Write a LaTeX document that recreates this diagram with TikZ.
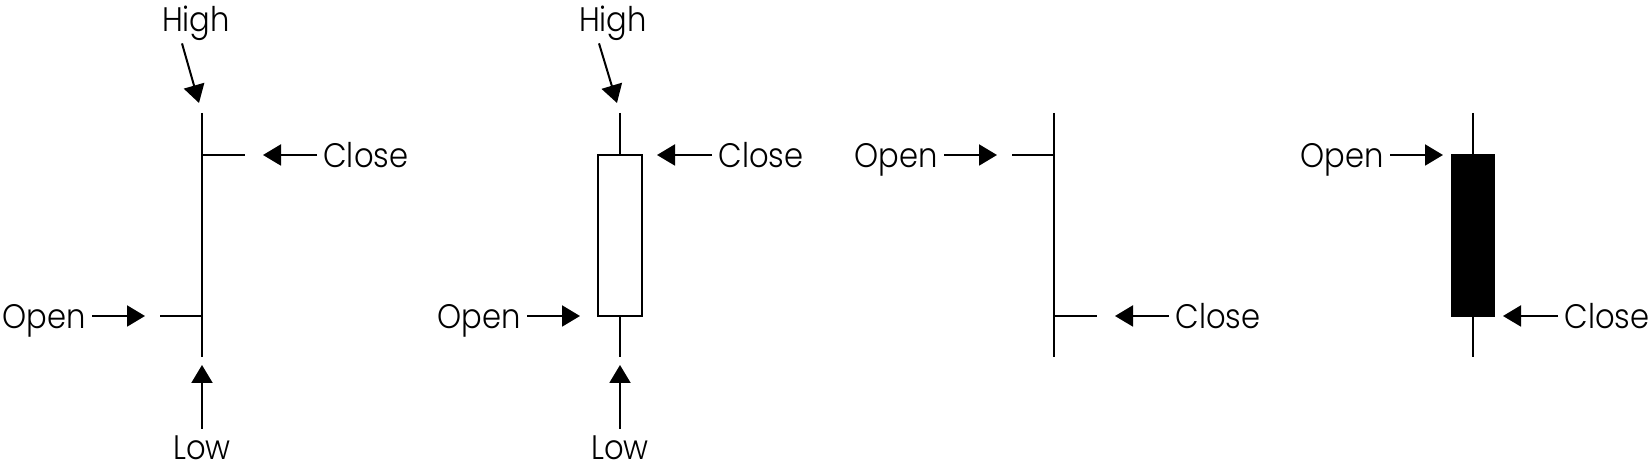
\documentclass[tikz,border=0pt]{standalone}
\usepackage{fontspec}
\setmainfont{Poppins}[UprightFont=* Light,FakeStretch=0.9]
\usetikzlibrary{arrows.meta}

\begin{document}
\begin{tikzpicture}[x=0.5pt,y=-0.5pt,
  lbl/.style={inner sep=3pt,text depth=0pt,font=\fontsize{17}{17}\selectfont},
  arr/.style={line width=1pt,-{Triangle[length=9pt,width=10.5pt]}},
  wick/.style={line width=1.1pt}]
\useasboundingbox (0,0) rectangle (1650,469);
% wicks
\foreach \x in {202,620,1054,1473}
  {\draw[wick] (\x,113) -- (\x,357);}
% ticks and bodies
\draw[wick] (202,155) -- (245,155) (160,316) -- (202,316);
\draw[wick,fill=white] (598,155) rectangle (642,316);
\draw[wick] (1012,155) -- (1054,155) (1054,316) -- (1097,316);
\draw[wick,fill=black] (1452,155) rectangle (1494,316);
% open and close labels
\foreach \nm/\txt/\side/\px/\py/\tipx in
  {close1/Close/west/317/155/263, open1/Open/east/92/316/145,
   close2/Close/west/712/155/657, open2/Open/east/527/316/580,
   open3/Open/east/944/155/997, close3/Close/west/1169/316/1115,
   open4/Open/east/1390/155/1443, close4/Close/west/1558/316/1503}
  {\node[lbl,anchor=\side] (\nm) at (\px,\py) {\txt};
   \coordinate (\nm tip) at (\tipx,\py);
   \draw[arr] (\nm) -- (\nm tip);}
% high and low labels
\foreach \nm/\x/\hx in {1/202/196, 2/620/613}
  {\node[lbl,anchor=base] (high\nm) at (\hx,32) {High};
   \coordinate (high\nm tip) at (\x-3,103);
   \draw[arr] ([shift={(-14,5)}]high\nm.south) -- (high\nm tip);
   \node[lbl,anchor=north] (low\nm) at (\x,429) {Low};
   \coordinate (low\nm tip) at (\x,365);
   \draw[arr] (low\nm) -- (low\nm tip);}
\end{tikzpicture}
\end{document}
